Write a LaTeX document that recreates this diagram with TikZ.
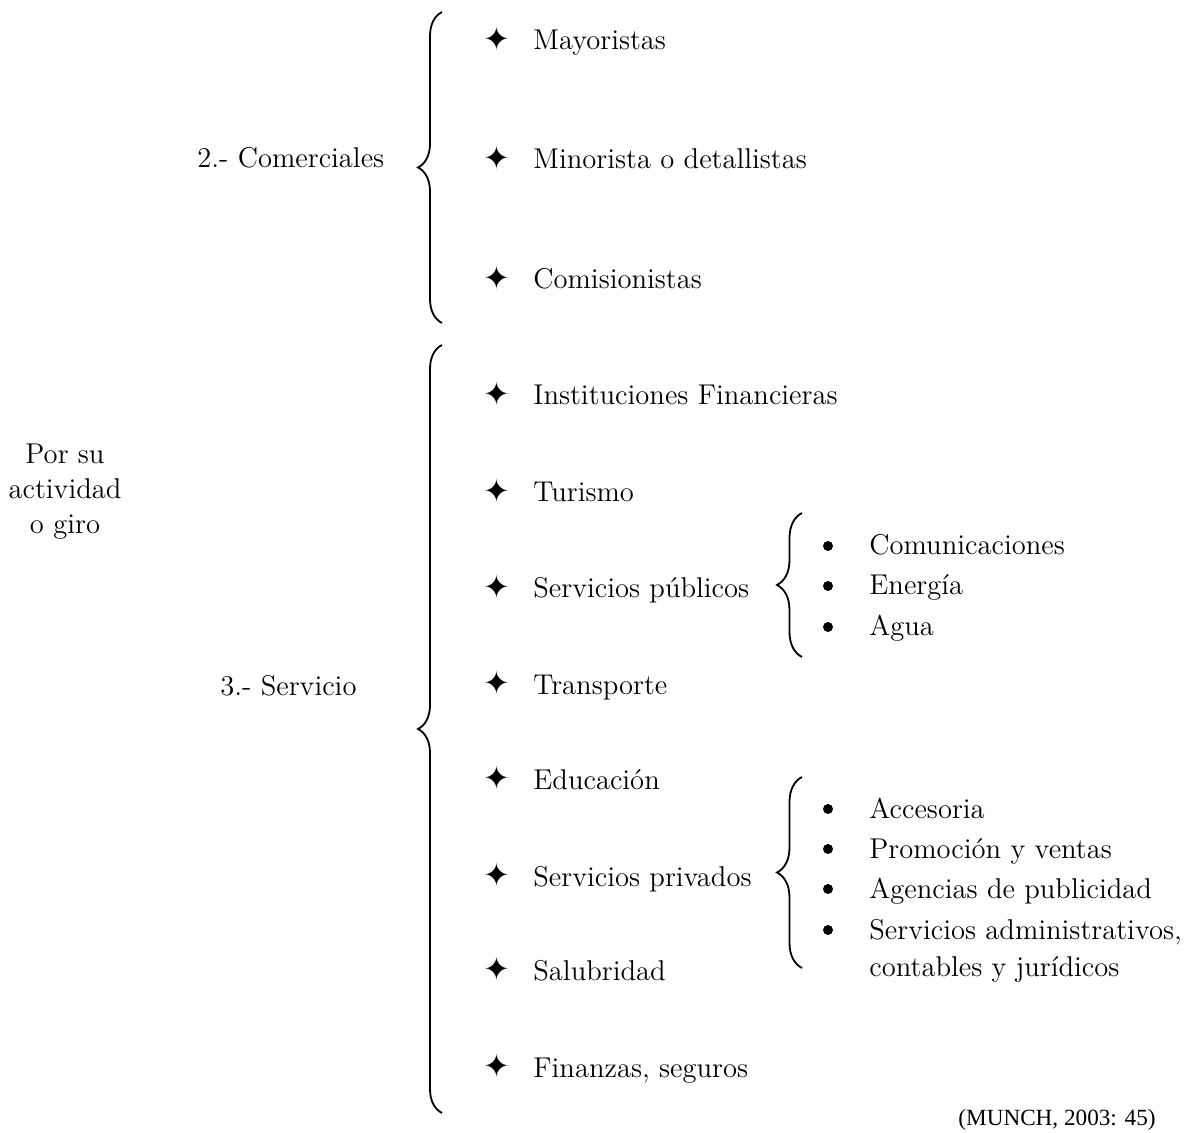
\documentclass[tikz,border=0pt]{standalone}
\usepackage{fontspec}
\usepackage{tikz}
\usetikzlibrary{decorations.pathreplacing}
\newfontfamily\symfont{DejaVu Sans}
\newfontfamily\citefont{Liberation Serif}
\tikzset{
  item/.style={anchor=base west,inner sep=0pt},
  starmark/.style={font=\symfont\fontsize{16}{16}\selectfont,inner sep=0pt},
  dotmark/.style={fill,circle,inner sep=0pt,minimum size=5pt},
  bigbrace/.style={decorate,decoration={brace,amplitude=12pt},line width=0.9pt},
  subbrace/.style={decorate,decoration={brace,amplitude=12.5pt},line width=0.9pt}
}

\begin{document}
\begin{tikzpicture}[x=0.5pt,y=-0.5pt,every node/.style={font=\fontsize{14.3}{17.5}\selectfont}]
    \useasboundingbox (0,0) rectangle (1194,1133);

    % left column
    \node[align=center,inner sep=0pt] (giro) at (65,492) {Por su\\actividad\\o giro};
    \node[item] (comer) at (197,168) {2.- Comerciales};
    \node[item] (servi) at (220,696) {3.- Servicio};

    % braces
    \coordinate (comtop) at (442,12);
    \coordinate (combot) at (442,323);
    \coordinate (sertop) at (442,345);
    \coordinate (serbot) at (442,1113);
    \coordinate (pubtop) at (802,513);
    \coordinate (pubbot) at (802,657);
    \coordinate (pritop) at (802,777);
    \coordinate (pribot) at (802,968);
    \draw[bigbrace] (combot) -- (comtop);
    \draw[bigbrace] (serbot) -- (sertop);
    \draw[subbrace] (pubbot) -- (pubtop);
    \draw[subbrace] (pribot) -- (pritop);

    % comerciales
    \node[starmark] (smay) at (497,39) {✦};
    \node[item] (may) at (533,50) {Mayoristas};
    \node[starmark] (smin) at (497,158) {✦};
    \node[item] (min) at (533,169) {Minorista o detallistas};
    \node[starmark] (scom) at (497,278) {✦};
    \node[item] (comi) at (533,289) {Comisionistas};

    % servicio
    \node[starmark] (sins) at (497,394) {✦};
    \node[item] (inst) at (533,405) {Instituciones Financieras};
    \node[starmark] (stur) at (497,491) {✦};
    \node[item] (tur) at (533,502) {Turismo};
    \node[starmark] (spub) at (497,587) {✦};
    \node[item] (pub) at (533,598) {Servicios públicos};
    \node[starmark] (stra) at (497,683) {✦};
    \node[item] (tra) at (533,694) {Transporte};
    \node[starmark] (sedu) at (497,778) {✦};
    \node[item] (edu) at (533,789) {Educación};
    \node[starmark] (spri) at (497,875) {✦};
    \node[item] (pri) at (533,886) {Servicios privados};
    \node[starmark] (ssal) at (497,969) {✦};
    \node[item] (sal) at (533,980) {Salubridad};
    \node[starmark] (sfin) at (497,1066) {✦};
    \node[item] (fin) at (533,1077) {Finanzas, seguros};

    % publicos
    \node[dotmark] (bcom) at (828,546) {};
    \node[item] (comu) at (869,555) {Comunicaciones};
    \node[dotmark] (bene) at (828,586) {};
    \node[item] (ene) at (869,595) {Energía};
    \node[dotmark] (bagu) at (828,627) {};
    \node[item] (agu) at (869,636) {Agua};

    % privados
    \node[dotmark] (bacc) at (828,809) {};
    \node[item] (acc) at (869,818) {Accesoria};
    \node[dotmark] (bpro) at (828,849) {};
    \node[item] (pro) at (869,858) {Promoción y ventas};
    \node[dotmark] (bage) at (828,889) {};
    \node[item] (age) at (869,898) {Agencias de publicidad};
    \node[dotmark] (badm) at (828,930) {};
    \node[item,align=left,font=\fontsize{14.3}{18.5}\selectfont] (adm) at (869,976) {Servicios administrativos,\\contables y jurídicos};

    \node[anchor=base west,inner sep=0pt,font=\citefont\fontsize{11.6}{14}\selectfont] (cita) at (958,1125) {(MUNCH, 2003: 45)};
\end{tikzpicture}
\end{document}
